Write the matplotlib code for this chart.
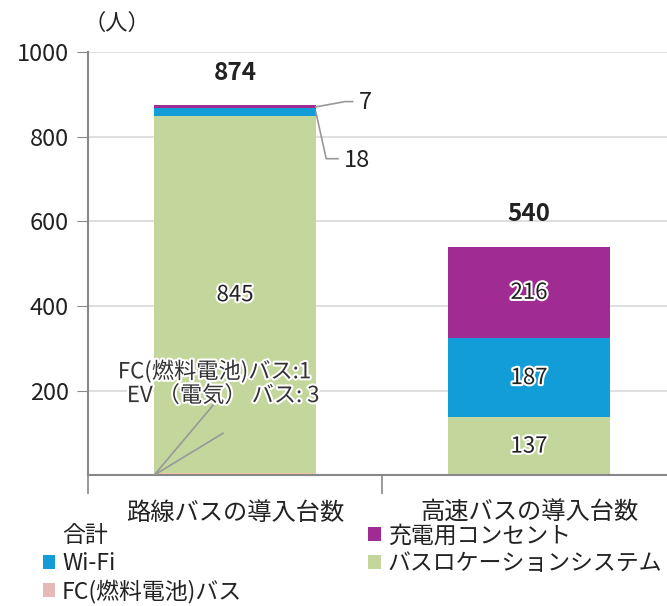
import numpy as np
import matplotlib
matplotlib.use('Agg')
import matplotlib.pyplot as plt
import matplotlib.patheffects as pe
from matplotlib.patches import Patch

plt.rcParams['font.family'] = ['Noto Sans CJK JP', 'DejaVu Sans']

# data
categories = ['路線バスの導入台数', '高速バスの導入台数']
fc_bus = [1, 0]
ev_bus = [3, 0]
bus_location = [845, 137]
wifi = [18, 187]
charging = [7, 216]

series = [
    ('FC(燃料電池)バス', fc_bus, '#E6B9B8'),
    ('EV（電気）バス', ev_bus, '#F2C9A0'),
    ('バスロケーションシステム', bus_location, '#C3D69B'),
    ('Wi-Fi', wifi, '#129CD8'),
    ('充電用コンセント', charging, '#A02B93'),
]

fig = plt.figure(figsize=(6.67, 6.06), dpi=100)
ax = fig.add_axes([0.132, 0.216, 0.8816, 0.698])

x = np.arange(len(categories))
width = 0.55
bottom = np.zeros(len(categories))
stroke = [pe.withStroke(linewidth=3, foreground='white')]
handles = {}
for name, vals, color in series:
    vals = np.array(vals, dtype=float)
    bars = ax.bar(x, vals, width, bottom=bottom, color=color, zorder=2)
    handles[name] = bars
    for i, v in enumerate(vals):
        if v >= 100:
            ax.text(x[i], bottom[i] + v / 2, f'{int(v)}', ha='center', va='center',
                    fontsize=16, color='#222222', path_effects=stroke, zorder=4)
    bottom += vals

# totals
for i, t in enumerate(bottom):
    ax.annotate(f'{int(t)}', (x[i], t), xytext=(0, 15), textcoords='offset points',
                ha='center', va='bottom', fontsize=17.5, fontweight='bold', color='#222222')

# small value callouts on first bar
top0 = bottom[0]
ax.plot([x[0] + width / 2, 0.374, 0.40], [top0 - charging[0] / 2, 883, 883],
        color='#999999', lw=1.2, zorder=3)
ax.text(0.422, 880, f'{charging[0]}', ha='left', va='center', fontsize=17, color='#222222')
wifi_mid = fc_bus[0] + ev_bus[0] + bus_location[0] + wifi[0] / 2
ax.plot([x[0] + width / 2, 0.31, 0.35], [wifi_mid, 748, 748],
        color='#999999', lw=1.2, zorder=3)
ax.text(0.37, 744, f'{wifi[0]}', ha='left', va='center', fontsize=17, color='#222222')

x0 = x[0] - width / 2
ax.plot([x0, -0.075], [0, 165], color='#999999', lw=1.2, zorder=3)
ax.plot([x0, -0.041], [0, 99], color='#999999', lw=1.2, zorder=3)
ax.text(-0.07, 245, f'FC(燃料電池)バス:{fc_bus[0]}', ha='center', va='center',
        fontsize=16, color='#333333', path_effects=stroke, zorder=4)
ax.text(-0.04, 188, f'EV （電気） バス: {ev_bus[0]}', ha='center', va='center',
        fontsize=16, color='#333333', path_effects=stroke, zorder=4)

ax.set_xlim(-0.5, 1.5)
ax.set_ylim(0, 1000)
ax.set_yticks(np.arange(200, 1001, 200))
ax.yaxis.grid(True, color='#D9D9D9', lw=1.2, zorder=0)
ax.set_axisbelow(True)
ax.tick_params(axis='y', labelsize=17, length=8, color='#888888', labelcolor='#222222', pad=6)

ax.set_xticks(x)
ax.set_xticklabels(categories, fontsize=17.5, color='#222222')
ax.tick_params(axis='x', length=0, pad=18)
ax.set_xticks([-0.5, 0.5, 1.5], minor=True)
ax.tick_params(axis='x', which='minor', length=14, color='#888888', width=1.2)

for s in ['top', 'right']:
    ax.spines[s].set_visible(False)
for s in ['left', 'bottom']:
    ax.spines[s].set_color('#888888')
    ax.spines[s].set_linewidth(1.5)

fig.text(0.175, 0.962, '（人）', ha='center', va='center', fontsize=16, color='#222222')

leg_handles = [Patch(facecolor='none', edgecolor='none'), handles['Wi-Fi'], handles['FC(燃料電池)バス'],
               handles['充電用コンセント'], handles['バスロケーションシステム']]
leg_labels = ['合計', 'Wi-Fi', 'FC(燃料電池)バス', '充電用コンセント', 'バスロケーションシステム']
fig.legend(leg_handles, leg_labels, loc='upper left', bbox_to_anchor=(0.05, 0.15),
           ncol=2, frameon=False, fontsize=16.5, handlelength=0.55, handleheight=0.55,
           handletextpad=0.3, columnspacing=5.5, labelspacing=0.2, borderaxespad=0,
           labelcolor='#222222')

fig.savefig('out.png', dpi=100)
